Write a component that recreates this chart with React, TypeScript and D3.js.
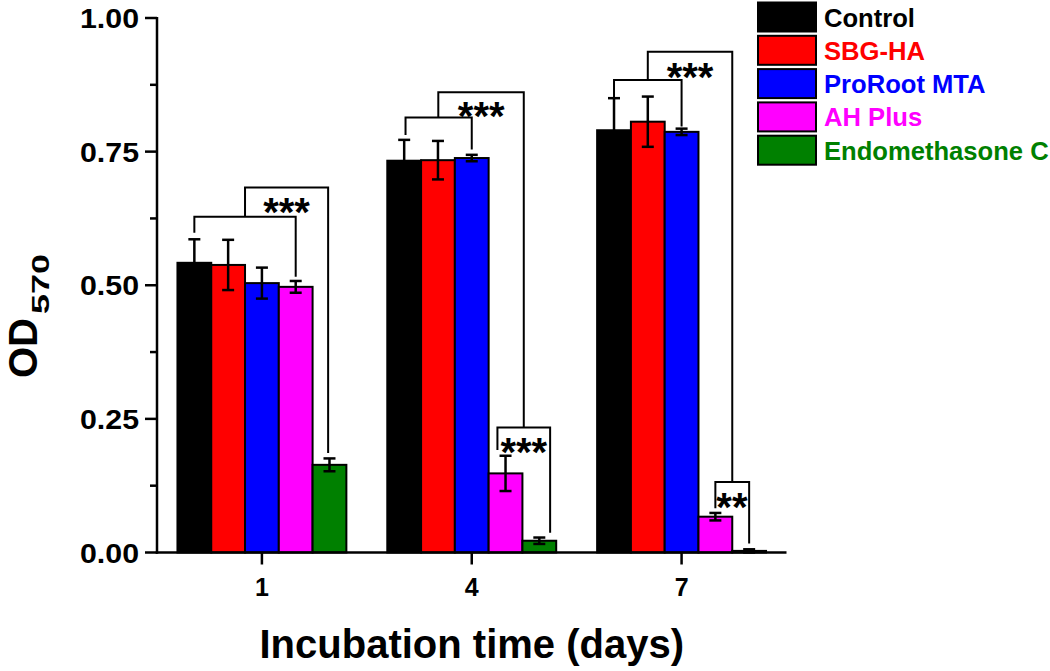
import React from "react";
import * as d3 from "d3";

const days = ["1", "4", "7"];
const seriesNames = ["Control", "SBG-HA", "ProRoot MTA", "AH Plus", "Endomethasone C"];
const seriesColors = ["#000000", "#ff0000", "#0000ff", "#ff00ff", "#008000"];

const controlVals = [0.542, 0.733, 0.79];
const controlErr = [0.044, 0.039, 0.06];
const sbgVals = [0.538, 0.734, 0.806];
const sbgErr = [0.047, 0.036, 0.047];
const mtaVals = [0.504, 0.738, 0.787];
const mtaErr = [0.029, 0.006, 0.006];
const ahVals = [0.497, 0.148, 0.067];
const ahErr = [0.011, 0.033, 0.007];
const endoVals = [0.164, 0.022, 0.003];
const endoErr = [0.012, 0.006, 0.003];

const allVals = [controlVals, sbgVals, mtaVals, ahVals, endoVals];
const allErr = [controlErr, sbgErr, mtaErr, ahErr, endoErr];

const yTicks = [0, 0.25, 0.5, 0.75, 1.0];
const yMinorTicks = [0.125, 0.375, 0.625, 0.875];

// significance brackets: series positions (index, fractional allowed) and y levels in data units
const brackets = [
  { day: "1", s1: 0, s2: 3, top: 0.628, b1: 0.598, b2: 0.516 },
  { day: "1", s1: 1.5, s2: 3.96, top: 0.683, b1: 0.628, b2: 0.186 },
  { day: "4", s1: 0.04, s2: 2, top: 0.814, b1: 0.781, b2: 0.754 },
  { day: "4", s1: 1.01, s2: 3.54, top: 0.861, b1: 0.814, b2: 0.234 },
  { day: "4", s1: 2.76, s2: 4.32, top: 0.234, b1: 0.192, b2: 0.037 },
  { day: "7", s1: 0, s2: 2, top: 0.884, b1: 0.85, b2: 0.797 },
  { day: "7", s1: 1, s2: 3.5, top: 0.937, b1: 0.884, b2: 0.132 },
  { day: "7", s1: 3, s2: 4, top: 0.132, b1: 0.083, b2: 0.017 },
];
const stars = [
  { day: "1", s: 2.73, y: 0.654, label: "***" },
  { day: "4", s: 2.28, y: 0.833, label: "***" },
  { day: "4", s: 3.54, y: 0.204, label: "***" },
  { day: "7", s: 2.25, y: 0.907, label: "***" },
  { day: "7", s: 3.49, y: 0.102, label: "**" },
];

const FONT = "'Liberation Sans', Arial, sans-serif";

export default function App() {
  const W = 1050;
  const H = 671;
  const left = 157;
  const right = 786.5;
  const top = 18;
  const bottom = 552.5;

  const x = d3.scaleBand<string>().domain(days).range([left, right]).paddingInner(0).paddingOuter(0);
  const y = d3.scaleLinear().domain([0, 1]).range([bottom, top]);
  const groupW = x.bandwidth() * 0.805;
  const xs = d3.scaleBand<string>().domain(seriesNames).range([0, groupW]);
  const bw = xs.bandwidth();
  const groupStart = (d: string) => (x(d) as number) + (x.bandwidth() - groupW) / 2;
  const pos = (d: string, s: number) => groupStart(d) + (s + 0.5) * bw;

  const starFs = 40;

  return (
    <svg width={W} height={H} style={{ position: "absolute", left: 0, top: 0, background: "#fff" }} fontFamily={FONT}>
      {/* bars */}
      {seriesNames.map((name, si) =>
        days.map((d, di) => {
          const v = allVals[si][di];
          return (
            <rect
              key={name + d}
              x={groupStart(d) + (xs(name) as number)}
              y={y(v)}
              width={bw}
              height={y(0) - y(v)}
              fill={seriesColors[si]}
              stroke="#000"
              strokeWidth={2}
            />
          );
        })
      )}
      {/* error bars */}
      {seriesNames.map((name, si) =>
        days.map((d, di) => {
          const v = allVals[si][di];
          const e = allErr[si][di];
          const cx = pos(d, si);
          return (
            <g key={"e" + name + d} stroke="#000" strokeWidth={2.5}>
              <line x1={cx} x2={cx} y1={y(v + e)} y2={y(v - e)} />
              <line x1={cx - 6} x2={cx + 6} y1={y(v + e)} y2={y(v + e)} />
              <line x1={cx - 6} x2={cx + 6} y1={y(v - e)} y2={y(v - e)} />
            </g>
          );
        })
      )}
      {/* brackets */}
      {brackets.map((b, i) => {
        const x1 = pos(b.day, b.s1);
        const x2 = pos(b.day, b.s2);
        const p = d3.path();
        p.moveTo(x1, y(b.b1));
        p.lineTo(x1, y(b.top));
        p.lineTo(x2, y(b.top));
        p.lineTo(x2, y(b.b2));
        return <path key={"b" + i} d={p.toString()} fill="none" stroke="#000" strokeWidth={2} />;
      })}
      {stars.map((s, i) => (
        <text
          key={"s" + i}
          x={pos(s.day, s.s)}
          y={y(s.y) + 0.575 * starFs}
          textAnchor="middle"
          fontSize={starFs}
          fontWeight="bold"
          fill="#000"
        >
          {s.label}
        </text>
      ))}
      {/* axes */}
      <line x1={left} x2={left} y1={top - 1} y2={bottom + 1.25} stroke="#000" strokeWidth={2.5} />
      <line x1={left - 1.25} x2={right} y1={bottom} y2={bottom} stroke="#000" strokeWidth={2.5} />
      {yTicks.map((t) => (
        <g key={"yt" + t}>
          <line x1={left - 12} x2={left} y1={y(t)} y2={y(t)} stroke="#000" strokeWidth={2.5} />
          <text
            x={139}
            y={y(t) + 10}
            textAnchor="end"
            fontSize={28}
            fontWeight="bold"
            textLength={59}
            lengthAdjust="spacingAndGlyphs"
          >
            {d3.format(".2f")(t)}
          </text>
        </g>
      ))}
      {yMinorTicks.map((t) => (
        <line key={"ym" + t} x1={left - 7} x2={left} y1={y(t)} y2={y(t)} stroke="#000" strokeWidth={2.5} />
      ))}
      {days.map((d) => (
        <g key={"xt" + d}>
          <line
            x1={(x(d) as number) + x.bandwidth() / 2}
            x2={(x(d) as number) + x.bandwidth() / 2}
            y1={bottom}
            y2={bottom + 12}
            stroke="#000"
            strokeWidth={2.5}
          />
          <text x={(x(d) as number) + x.bandwidth() / 2} y={596} textAnchor="middle" fontSize={25} fontWeight="bold">
            {d}
          </text>
        </g>
      ))}
      {/* axis titles */}
      <text x={(left + right) / 2} y={658} textAnchor="middle" fontSize={40} fontWeight="bold">
        Incubation time (days)
      </text>
      <text transform="translate(37,378) rotate(-90)" fontSize={40} fontWeight="bold">
        OD
      </text>
      <text
        transform="translate(49,314) rotate(-90)"
        fontSize={24}
        fontWeight="bold"
        textLength={60}
        lengthAdjust="spacingAndGlyphs"
      >
        570
      </text>
      {/* legend */}
      {seriesNames.map((name, i) => (
        <g key={"lg" + name} transform={`translate(758, ${2.5 + i * 33.3})`}>
          <rect x={0} y={0} width={58} height={29} fill={seriesColors[i]} stroke="#000" strokeWidth={2} />
          <text x={66} y={24} fontSize={25.6} fontWeight="bold" fill={seriesColors[i]}>
            {name}
          </text>
        </g>
      ))}
    </svg>
  );
}
